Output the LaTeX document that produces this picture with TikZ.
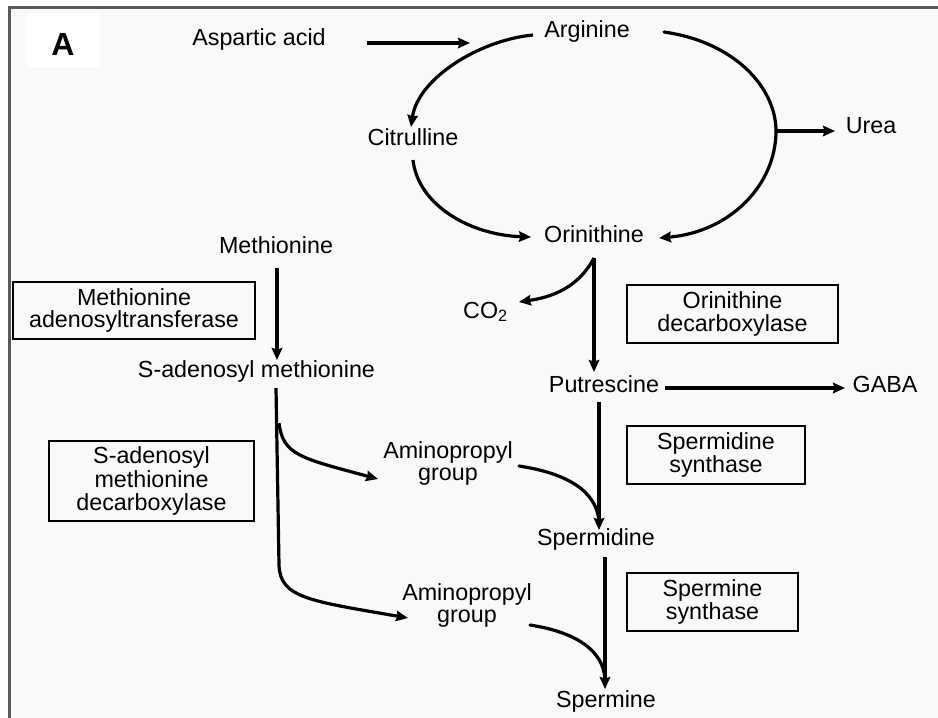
\documentclass[tikz,border=0pt]{standalone}
\usepackage{fontspec}
\setmainfont{Liberation Sans}
\usetikzlibrary{arrows.meta}
\definecolor{bgc}{HTML}{F9F9F9}
\definecolor{framec}{HTML}{5A5A5A}
\begin{document}
\begin{tikzpicture}[x=1pt,y=-1pt,
  lbl/.style={inner sep=0pt, font=\fontsize{23.3}{22.5}\selectfont, align=center},
  enz/.style={draw, line width=2pt, inner sep=0pt, font=\fontsize{23.3}{22.5}\selectfont, align=center},
  flow/.style={line width=3.2pt, -{Stealth[length=12pt,width=10.5pt,inset=1.5pt]}},
  joinline/.style={line width=3.2pt, line cap=round}]
\useasboundingbox (0,0) rectangle (938,718);
\fill[white] (0,0) rectangle (938,718);
\fill[bgc] (9,7) rectangle (938,718);
\draw[framec, line width=3pt] (9,718) -- (9,7) -- (938,7);
% panel label
\node[fill=white, minimum width=74pt, minimum height=54pt, inner sep=0pt] (tagbox) at (63,40) {};
\node[inner sep=0pt, anchor=base, font=\fontsize{32}{36}\selectfont\bfseries] (tag) at (63,55) {A};

% metabolites
\node[lbl, anchor=base] (asp) at (259,45) {Aspartic acid};
\node[lbl, anchor=base] (arg) at (587,37) {Arginine};
\node[lbl, anchor=base] (cit) at (413,145) {Citrulline};
\node[lbl, anchor=base] (urea) at (871,133) {Urea};
\node[lbl, anchor=base] (orn) at (594,242) {Orinithine};
\node[lbl, anchor=base] (met) at (276,253) {Methionine};
\node[lbl, anchor=base] (sam) at (256.5,377) {S-adenosyl methionine};
\node[lbl, anchor=base] (co2) at (485.5,318) {CO\textsubscript{2}};
\node[lbl, anchor=base] (put) at (604,392) {Putrescine};
\node[lbl, anchor=base] (gaba) at (885,392) {GABA};
\node[lbl] (ap1) at (448,463.5) {Aminopropyl\\group};
\node[lbl] (ap2) at (467,605.5) {Aminopropyl\\group};
\node[lbl, anchor=base] (spd) at (596,545) {Spermidine};
\node[lbl, anchor=base] (spm) at (606,707) {Spermine};

% enzymes
\node[enz, minimum width=242pt, minimum height=57pt] (mat) at (134,310.5) {Methionine\\adenosyltransferase};
\node[enz, minimum width=205pt, minimum height=80pt, font=\fontsize{23.3}{23.5}\selectfont] (samdc) at (151.5,481) {S-adenosyl\\methionine\\decarboxylase};
\node[enz, minimum width=211pt, minimum height=58pt] (odc) at (732.5,314) {Orinithine\\decarboxylase};
\node[enz, minimum width=178pt, minimum height=58pt] (spds) at (716,455) {Spermidine\\synthase};
\node[enz, minimum width=171pt, minimum height=58pt] (spms) at (712.5,602) {Spermine\\synthase};

% connector end points
\coordinate (aspE) at (367,43);
\coordinate (cycIn) at (470,43);
\coordinate (argW) at (533,35);
\coordinate (citN) at (411,127);
\coordinate (citS) at (413,160);
\coordinate (ornW) at (531,237);
\coordinate (argE) at (664,32);
\coordinate (cycR) at (776,131);
\coordinate (ornE) at (659,238);
\coordinate (ureaW) at (835,131);
\coordinate (ornS) at (594,258);
\coordinate (co2E) at (519,302);
\coordinate (putN) at (594,372);
\coordinate (putE) at (665,388);
\coordinate (gabaW) at (845,388);
\coordinate (metS) at (277,268);
\coordinate (samN) at (277,360);
\coordinate (samS) at (276,388);
\coordinate (br1) at (279,423);
\coordinate (bend2) at (279,565);
\coordinate (ap1W) at (378,479);
\coordinate (ap2W) at (408,618);
\coordinate (putS) at (599,402);
\coordinate (spdN) at (599,530);
\coordinate (ap1E) at (519,466);
\coordinate (mrg1) at (599,522);
\coordinate (spdS) at (605,557);
\coordinate (spmN) at (605,689);
\coordinate (ap2E) at (530,625);
\coordinate (mrg2) at (605,680);

% urea cycle
\draw[flow] (aspE) -- (cycIn);
\draw[flow] (argW) .. controls (480,40) and (418,78) .. (citN);
\draw[flow] (citS) .. controls (418,205) and (470,235) .. (ornW);
\draw[joinline] (argE) .. controls (735,42) and (776,88) .. (cycR);
\draw[flow] (cycR) .. controls (776,185) and (730,232) .. (ornE);
\draw[flow] (cycR) -- (ureaW);

% polyamine pathway
\draw[flow] (ornS) .. controls (578,288) and (552,297) .. (co2E);
\draw[flow] (ornS) -- (putN);
\draw[flow] (putE) -- (gabaW);
\draw[flow] (metS) -- (samN);
\draw[flow] (samS) -- (bend2) .. controls (280,598) and (310,601) .. (ap2W);
\draw[flow] (br1) .. controls (283,455) and (300,458) .. (ap1W);
\draw[flow] (putS) -- (spdN);
\draw[joinline] (ap1E) .. controls (565,473) and (597,490) .. (mrg1);
\draw[flow] (spdS) -- (spmN);
\draw[joinline] (ap2E) .. controls (575,632) and (604,650) .. (mrg2);
\end{tikzpicture}
\end{document}
